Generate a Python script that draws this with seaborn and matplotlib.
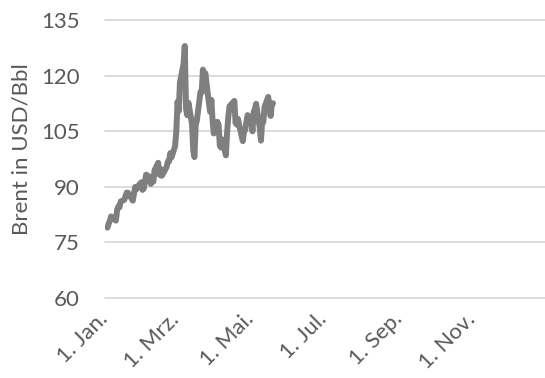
import matplotlib
matplotlib.use("Agg")
import pandas as pd
import seaborn as sns
import matplotlib.pyplot as plt
import matplotlib.transforms as mtrans

# Brent futures, daily settlement (USD per barrel), 2022
dates = [
    "2022-01-03", "2022-01-04", "2022-01-05", "2022-01-06", "2022-01-07",
    "2022-01-10", "2022-01-11", "2022-01-12", "2022-01-13", "2022-01-14",
    "2022-01-17", "2022-01-18", "2022-01-19", "2022-01-20", "2022-01-21",
    "2022-01-24", "2022-01-25", "2022-01-26", "2022-01-27", "2022-01-28",
    "2022-01-31", "2022-02-01", "2022-02-02", "2022-02-03", "2022-02-04",
    "2022-02-07", "2022-02-08", "2022-02-09", "2022-02-10", "2022-02-11",
    "2022-02-14", "2022-02-15", "2022-02-16", "2022-02-17", "2022-02-18",
    "2022-02-21", "2022-02-22", "2022-02-23", "2022-02-24", "2022-02-25",
    "2022-02-28", "2022-03-01", "2022-03-02", "2022-03-03", "2022-03-04",
    "2022-03-07", "2022-03-08", "2022-03-09", "2022-03-10", "2022-03-11",
    "2022-03-14", "2022-03-15", "2022-03-16", "2022-03-17", "2022-03-18",
    "2022-03-21", "2022-03-22", "2022-03-23", "2022-03-24", "2022-03-25",
    "2022-03-28", "2022-03-29", "2022-03-30", "2022-03-31", "2022-04-01",
    "2022-04-04", "2022-04-05", "2022-04-06", "2022-04-07", "2022-04-08",
    "2022-04-11", "2022-04-12", "2022-04-13", "2022-04-14", "2022-04-18",
    "2022-04-19", "2022-04-20", "2022-04-21", "2022-04-22", "2022-04-25",
    "2022-04-26", "2022-04-27", "2022-04-28", "2022-04-29", "2022-05-02",
    "2022-05-03", "2022-05-04", "2022-05-05", "2022-05-06", "2022-05-09",
    "2022-05-10", "2022-05-11", "2022-05-12", "2022-05-13", "2022-05-16",
    "2022-05-17", "2022-05-18", "2022-05-19", "2022-05-20",
]
brent = [
    78.98, 80.00, 80.80, 81.99, 81.75,
    80.87, 83.72, 84.67, 84.47, 86.06,
    86.48, 87.51, 88.44, 88.38, 87.89,
    86.27, 88.20, 89.96, 89.34, 90.03,
    91.21, 89.16, 89.47, 91.11, 93.27,
    92.69, 90.78, 91.55, 91.41, 94.44,
    96.48, 93.28, 94.81, 92.97, 93.54,
    95.39, 96.84, 96.84, 99.08, 97.93,
    100.99, 104.97, 112.93, 110.46, 118.11,
    123.21, 127.98, 111.14, 109.33, 112.67,
    106.90, 99.91, 98.02, 106.64, 107.93,
    115.62, 115.48, 121.60, 119.03, 120.65,
    112.48, 110.23, 113.45, 107.91, 104.39,
    107.53, 106.64, 101.07, 100.58, 102.78,
    98.48, 104.64, 108.78, 111.70, 113.16,
    107.25, 106.80, 108.33, 106.65, 102.32,
    104.99, 105.32, 107.59, 109.34, 107.58,
    104.97, 110.14, 111.00, 112.39, 105.94,
    102.46, 107.51, 107.45, 111.55, 114.24,
    111.93, 109.11, 112.04, 112.55,
]

tick_dates = ["2022-01-01", "2022-03-01", "2022-05-01",
              "2022-07-01", "2022-09-01", "2022-11-01"]
tick_labels = ["1. Jan.", "1. Mrz.", "1. Mai.", "1. Jul.", "1. Sep.", "1. Nov."]
y_ticks = [60, 75, 90, 105, 120, 135]

df = pd.DataFrame({"Datum": pd.to_datetime(dates), "Brent": brent})

sns.set_theme(style="white")
plt.rcParams["font.family"] = ["Lato", "DejaVu Sans"]

text_color = "#595959"
font_size = 16
fig = plt.figure(figsize=(5.45, 3.78), dpi=100)
ax = fig.add_axes([105 / 545, 1 - 298 / 378, 440 / 545, 278 / 378])

sns.lineplot(data=df, x="Datum", y="Brent", ax=ax, color="#7f7f7f",
             linewidth=4.3, solid_joinstyle="round", solid_capstyle="round")

ax.set_ylim(y_ticks[0], y_ticks[-1])
ax.set_yticks(y_ticks)
ax.set_xlim(pd.Timestamp("2022-01-01"), pd.Timestamp("2022-12-31"))
ax.set_xticks(pd.to_datetime(tick_dates))
ax.set_xticklabels(tick_labels, rotation=45, ha="right", va="top",
                   rotation_mode="anchor")

ax.yaxis.grid(True, color="#d9d9d9", linewidth=1.3)
ax.xaxis.grid(False)
ax.set_axisbelow(True)
for gl in ax.get_ygridlines():
    gl.set_clip_on(False)
for s in ax.spines.values():
    s.set_visible(False)

ax.tick_params(axis="y", length=0, pad=18, labelsize=font_size,
               labelcolor=text_color)
ax.tick_params(axis="x", length=0, pad=8, labelsize=font_size,
               labelcolor=text_color)

shift = mtrans.ScaledTranslation(-7 / 100, 0, fig.dpi_scale_trans)
for lbl in ax.get_xticklabels():
    lbl.set_transform(lbl.get_transform() + shift)

ax.set_xlabel("")
ax.set_ylabel("Brent in USD/Bbl", fontsize=font_size, color=text_color)
ax.yaxis.set_label_coords(-0.168, 0.536)

fig.savefig("out.png", dpi=100)
